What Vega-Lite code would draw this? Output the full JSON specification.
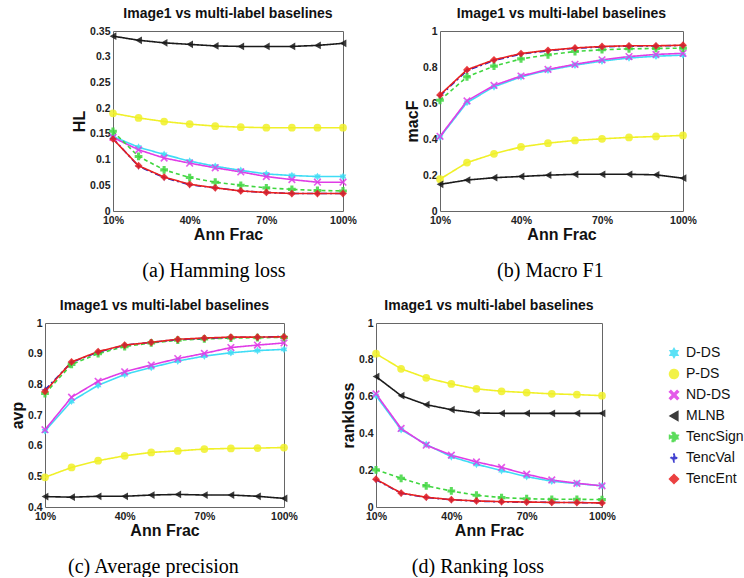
{
  "$schema": "https://vega.github.io/schema/vega-lite/v6.json",
  "background": "white",
  "padding": {"left": 8, "top": 6, "right": 0, "bottom": 0},
  "autosize": {"type": "pad"},
  "datasets": {
    "d": [
      {"metric":"HL","method":"D-DS","frac":10,"value":0.145},{"metric":"HL","method":"D-DS","frac":20,"value":0.124},{"metric":"HL","method":"D-DS","frac":30,"value":0.110},{"metric":"HL","method":"D-DS","frac":40,"value":0.097},{"metric":"HL","method":"D-DS","frac":50,"value":0.087},{"metric":"HL","method":"D-DS","frac":60,"value":0.079},{"metric":"HL","method":"D-DS","frac":70,"value":0.072},{"metric":"HL","method":"D-DS","frac":80,"value":0.069},{"metric":"HL","method":"D-DS","frac":90,"value":0.067},{"metric":"HL","method":"D-DS","frac":100,"value":0.067},
      {"metric":"HL","method":"P-DS","frac":10,"value":0.190},{"metric":"HL","method":"P-DS","frac":20,"value":0.181},{"metric":"HL","method":"P-DS","frac":30,"value":0.174},{"metric":"HL","method":"P-DS","frac":40,"value":0.169},{"metric":"HL","method":"P-DS","frac":50,"value":0.165},{"metric":"HL","method":"P-DS","frac":60,"value":0.163},{"metric":"HL","method":"P-DS","frac":70,"value":0.162},{"metric":"HL","method":"P-DS","frac":80,"value":0.162},{"metric":"HL","method":"P-DS","frac":90,"value":0.162},{"metric":"HL","method":"P-DS","frac":100,"value":0.162},
      {"metric":"HL","method":"ND-DS","frac":10,"value":0.143},{"metric":"HL","method":"ND-DS","frac":20,"value":0.119},{"metric":"HL","method":"ND-DS","frac":30,"value":0.103},{"metric":"HL","method":"ND-DS","frac":40,"value":0.093},{"metric":"HL","method":"ND-DS","frac":50,"value":0.084},{"metric":"HL","method":"ND-DS","frac":60,"value":0.076},{"metric":"HL","method":"ND-DS","frac":70,"value":0.067},{"metric":"HL","method":"ND-DS","frac":80,"value":0.061},{"metric":"HL","method":"ND-DS","frac":90,"value":0.056},{"metric":"HL","method":"ND-DS","frac":100,"value":0.056},
      {"metric":"HL","method":"MLNB","frac":10,"value":0.340},{"metric":"HL","method":"MLNB","frac":20,"value":0.332},{"metric":"HL","method":"MLNB","frac":30,"value":0.327},{"metric":"HL","method":"MLNB","frac":40,"value":0.324},{"metric":"HL","method":"MLNB","frac":50,"value":0.321},{"metric":"HL","method":"MLNB","frac":60,"value":0.320},{"metric":"HL","method":"MLNB","frac":70,"value":0.320},{"metric":"HL","method":"MLNB","frac":80,"value":0.320},{"metric":"HL","method":"MLNB","frac":90,"value":0.322},{"metric":"HL","method":"MLNB","frac":100,"value":0.326},
      {"metric":"HL","method":"TencSign","frac":10,"value":0.155},{"metric":"HL","method":"TencSign","frac":20,"value":0.106},{"metric":"HL","method":"TencSign","frac":30,"value":0.080},{"metric":"HL","method":"TencSign","frac":40,"value":0.065},{"metric":"HL","method":"TencSign","frac":50,"value":0.056},{"metric":"HL","method":"TencSign","frac":60,"value":0.050},{"metric":"HL","method":"TencSign","frac":70,"value":0.045},{"metric":"HL","method":"TencSign","frac":80,"value":0.042},{"metric":"HL","method":"TencSign","frac":90,"value":0.040},{"metric":"HL","method":"TencSign","frac":100,"value":0.039},
      {"metric":"HL","method":"TencVal","frac":10,"value":0.141},{"metric":"HL","method":"TencVal","frac":20,"value":0.087},{"metric":"HL","method":"TencVal","frac":30,"value":0.065},{"metric":"HL","method":"TencVal","frac":40,"value":0.051},{"metric":"HL","method":"TencVal","frac":50,"value":0.045},{"metric":"HL","method":"TencVal","frac":60,"value":0.039},{"metric":"HL","method":"TencVal","frac":70,"value":0.036},{"metric":"HL","method":"TencVal","frac":80,"value":0.034},{"metric":"HL","method":"TencVal","frac":90,"value":0.034},{"metric":"HL","method":"TencVal","frac":100,"value":0.034},
      {"metric":"HL","method":"TencEnt","frac":10,"value":0.140},{"metric":"HL","method":"TencEnt","frac":20,"value":0.088},{"metric":"HL","method":"TencEnt","frac":30,"value":0.066},{"metric":"HL","method":"TencEnt","frac":40,"value":0.052},{"metric":"HL","method":"TencEnt","frac":50,"value":0.045},{"metric":"HL","method":"TencEnt","frac":60,"value":0.039},{"metric":"HL","method":"TencEnt","frac":70,"value":0.036},{"metric":"HL","method":"TencEnt","frac":80,"value":0.034},{"metric":"HL","method":"TencEnt","frac":90,"value":0.034},{"metric":"HL","method":"TencEnt","frac":100,"value":0.034},

      {"metric":"macF","method":"D-DS","frac":10,"value":0.410},{"metric":"macF","method":"D-DS","frac":20,"value":0.603},{"metric":"macF","method":"D-DS","frac":30,"value":0.690},{"metric":"macF","method":"D-DS","frac":40,"value":0.745},{"metric":"macF","method":"D-DS","frac":50,"value":0.782},{"metric":"macF","method":"D-DS","frac":60,"value":0.810},{"metric":"macF","method":"D-DS","frac":70,"value":0.833},{"metric":"macF","method":"D-DS","frac":80,"value":0.850},{"metric":"macF","method":"D-DS","frac":90,"value":0.860},{"metric":"macF","method":"D-DS","frac":100,"value":0.866},
      {"metric":"macF","method":"P-DS","frac":10,"value":0.177},{"metric":"macF","method":"P-DS","frac":20,"value":0.269},{"metric":"macF","method":"P-DS","frac":30,"value":0.318},{"metric":"macF","method":"P-DS","frac":40,"value":0.356},{"metric":"macF","method":"P-DS","frac":50,"value":0.377},{"metric":"macF","method":"P-DS","frac":60,"value":0.392},{"metric":"macF","method":"P-DS","frac":70,"value":0.401},{"metric":"macF","method":"P-DS","frac":80,"value":0.409},{"metric":"macF","method":"P-DS","frac":90,"value":0.414},{"metric":"macF","method":"P-DS","frac":100,"value":0.420},
      {"metric":"macF","method":"ND-DS","frac":10,"value":0.415},{"metric":"macF","method":"ND-DS","frac":20,"value":0.612},{"metric":"macF","method":"ND-DS","frac":30,"value":0.698},{"metric":"macF","method":"ND-DS","frac":40,"value":0.750},{"metric":"macF","method":"ND-DS","frac":50,"value":0.787},{"metric":"macF","method":"ND-DS","frac":60,"value":0.815},{"metric":"macF","method":"ND-DS","frac":70,"value":0.840},{"metric":"macF","method":"ND-DS","frac":80,"value":0.858},{"metric":"macF","method":"ND-DS","frac":90,"value":0.870},{"metric":"macF","method":"ND-DS","frac":100,"value":0.876},
      {"metric":"macF","method":"MLNB","frac":10,"value":0.148},{"metric":"macF","method":"MLNB","frac":20,"value":0.172},{"metric":"macF","method":"MLNB","frac":30,"value":0.185},{"metric":"macF","method":"MLNB","frac":40,"value":0.192},{"metric":"macF","method":"MLNB","frac":50,"value":0.199},{"metric":"macF","method":"MLNB","frac":60,"value":0.204},{"metric":"macF","method":"MLNB","frac":70,"value":0.204},{"metric":"macF","method":"MLNB","frac":80,"value":0.204},{"metric":"macF","method":"MLNB","frac":90,"value":0.201},{"metric":"macF","method":"MLNB","frac":100,"value":0.182},
      {"metric":"macF","method":"TencSign","frac":10,"value":0.615},{"metric":"macF","method":"TencSign","frac":20,"value":0.745},{"metric":"macF","method":"TencSign","frac":30,"value":0.805},{"metric":"macF","method":"TencSign","frac":40,"value":0.845},{"metric":"macF","method":"TencSign","frac":50,"value":0.868},{"metric":"macF","method":"TencSign","frac":60,"value":0.886},{"metric":"macF","method":"TencSign","frac":70,"value":0.896},{"metric":"macF","method":"TencSign","frac":80,"value":0.901},{"metric":"macF","method":"TencSign","frac":90,"value":0.903},{"metric":"macF","method":"TencSign","frac":100,"value":0.905},
      {"metric":"macF","method":"TencVal","frac":10,"value":0.640},{"metric":"macF","method":"TencVal","frac":20,"value":0.780},{"metric":"macF","method":"TencVal","frac":30,"value":0.836},{"metric":"macF","method":"TencVal","frac":40,"value":0.872},{"metric":"macF","method":"TencVal","frac":50,"value":0.890},{"metric":"macF","method":"TencVal","frac":60,"value":0.904},{"metric":"macF","method":"TencVal","frac":70,"value":0.912},{"metric":"macF","method":"TencVal","frac":80,"value":0.916},{"metric":"macF","method":"TencVal","frac":90,"value":0.917},{"metric":"macF","method":"TencVal","frac":100,"value":0.920},
      {"metric":"macF","method":"TencEnt","frac":10,"value":0.645},{"metric":"macF","method":"TencEnt","frac":20,"value":0.785},{"metric":"macF","method":"TencEnt","frac":30,"value":0.840},{"metric":"macF","method":"TencEnt","frac":40,"value":0.875},{"metric":"macF","method":"TencEnt","frac":50,"value":0.893},{"metric":"macF","method":"TencEnt","frac":60,"value":0.906},{"metric":"macF","method":"TencEnt","frac":70,"value":0.914},{"metric":"macF","method":"TencEnt","frac":80,"value":0.918},{"metric":"macF","method":"TencEnt","frac":90,"value":0.918},{"metric":"macF","method":"TencEnt","frac":100,"value":0.921},

      {"metric":"avp","method":"D-DS","frac":10,"value":0.648},{"metric":"avp","method":"D-DS","frac":20,"value":0.745},{"metric":"avp","method":"D-DS","frac":30,"value":0.797},{"metric":"avp","method":"D-DS","frac":40,"value":0.832},{"metric":"avp","method":"D-DS","frac":50,"value":0.855},{"metric":"avp","method":"D-DS","frac":60,"value":0.876},{"metric":"avp","method":"D-DS","frac":70,"value":0.892},{"metric":"avp","method":"D-DS","frac":80,"value":0.903},{"metric":"avp","method":"D-DS","frac":90,"value":0.910},{"metric":"avp","method":"D-DS","frac":100,"value":0.914},
      {"metric":"avp","method":"P-DS","frac":10,"value":0.497},{"metric":"avp","method":"P-DS","frac":20,"value":0.529},{"metric":"avp","method":"P-DS","frac":30,"value":0.551},{"metric":"avp","method":"P-DS","frac":40,"value":0.567},{"metric":"avp","method":"P-DS","frac":50,"value":0.578},{"metric":"avp","method":"P-DS","frac":60,"value":0.583},{"metric":"avp","method":"P-DS","frac":70,"value":0.589},{"metric":"avp","method":"P-DS","frac":80,"value":0.591},{"metric":"avp","method":"P-DS","frac":90,"value":0.592},{"metric":"avp","method":"P-DS","frac":100,"value":0.594},
      {"metric":"avp","method":"ND-DS","frac":10,"value":0.652},{"metric":"avp","method":"ND-DS","frac":20,"value":0.758},{"metric":"avp","method":"ND-DS","frac":30,"value":0.810},{"metric":"avp","method":"ND-DS","frac":40,"value":0.841},{"metric":"avp","method":"ND-DS","frac":50,"value":0.863},{"metric":"avp","method":"ND-DS","frac":60,"value":0.884},{"metric":"avp","method":"ND-DS","frac":70,"value":0.901},{"metric":"avp","method":"ND-DS","frac":80,"value":0.920},{"metric":"avp","method":"ND-DS","frac":90,"value":0.928},{"metric":"avp","method":"ND-DS","frac":100,"value":0.935},
      {"metric":"avp","method":"MLNB","frac":10,"value":0.434},{"metric":"avp","method":"MLNB","frac":20,"value":0.432},{"metric":"avp","method":"MLNB","frac":30,"value":0.435},{"metric":"avp","method":"MLNB","frac":40,"value":0.435},{"metric":"avp","method":"MLNB","frac":50,"value":0.439},{"metric":"avp","method":"MLNB","frac":60,"value":0.441},{"metric":"avp","method":"MLNB","frac":70,"value":0.439},{"metric":"avp","method":"MLNB","frac":80,"value":0.439},{"metric":"avp","method":"MLNB","frac":90,"value":0.435},{"metric":"avp","method":"MLNB","frac":100,"value":0.428},
      {"metric":"avp","method":"TencSign","frac":10,"value":0.770},{"metric":"avp","method":"TencSign","frac":20,"value":0.865},{"metric":"avp","method":"TencSign","frac":30,"value":0.900},{"metric":"avp","method":"TencSign","frac":40,"value":0.923},{"metric":"avp","method":"TencSign","frac":50,"value":0.935},{"metric":"avp","method":"TencSign","frac":60,"value":0.944},{"metric":"avp","method":"TencSign","frac":70,"value":0.948},{"metric":"avp","method":"TencSign","frac":80,"value":0.951},{"metric":"avp","method":"TencSign","frac":90,"value":0.952},{"metric":"avp","method":"TencSign","frac":100,"value":0.953},
      {"metric":"avp","method":"TencVal","frac":10,"value":0.782},{"metric":"avp","method":"TencVal","frac":20,"value":0.872},{"metric":"avp","method":"TencVal","frac":30,"value":0.905},{"metric":"avp","method":"TencVal","frac":40,"value":0.928},{"metric":"avp","method":"TencVal","frac":50,"value":0.937},{"metric":"avp","method":"TencVal","frac":60,"value":0.946},{"metric":"avp","method":"TencVal","frac":70,"value":0.950},{"metric":"avp","method":"TencVal","frac":80,"value":0.953},{"metric":"avp","method":"TencVal","frac":90,"value":0.954},{"metric":"avp","method":"TencVal","frac":100,"value":0.956},
      {"metric":"avp","method":"TencEnt","frac":10,"value":0.777},{"metric":"avp","method":"TencEnt","frac":20,"value":0.873},{"metric":"avp","method":"TencEnt","frac":30,"value":0.907},{"metric":"avp","method":"TencEnt","frac":40,"value":0.928},{"metric":"avp","method":"TencEnt","frac":50,"value":0.937},{"metric":"avp","method":"TencEnt","frac":60,"value":0.947},{"metric":"avp","method":"TencEnt","frac":70,"value":0.951},{"metric":"avp","method":"TencEnt","frac":80,"value":0.954},{"metric":"avp","method":"TencEnt","frac":90,"value":0.954},{"metric":"avp","method":"TencEnt","frac":100,"value":0.955},

      {"metric":"rankloss","method":"D-DS","frac":10,"value":0.605},{"metric":"rankloss","method":"D-DS","frac":20,"value":0.420},{"metric":"rankloss","method":"D-DS","frac":30,"value":0.340},{"metric":"rankloss","method":"D-DS","frac":40,"value":0.273},{"metric":"rankloss","method":"D-DS","frac":50,"value":0.232},{"metric":"rankloss","method":"D-DS","frac":60,"value":0.198},{"metric":"rankloss","method":"D-DS","frac":70,"value":0.165},{"metric":"rankloss","method":"D-DS","frac":80,"value":0.140},{"metric":"rankloss","method":"D-DS","frac":90,"value":0.127},{"metric":"rankloss","method":"D-DS","frac":100,"value":0.115},
      {"metric":"rankloss","method":"P-DS","frac":10,"value":0.833},{"metric":"rankloss","method":"P-DS","frac":20,"value":0.751},{"metric":"rankloss","method":"P-DS","frac":30,"value":0.702},{"metric":"rankloss","method":"P-DS","frac":40,"value":0.669},{"metric":"rankloss","method":"P-DS","frac":50,"value":0.642},{"metric":"rankloss","method":"P-DS","frac":60,"value":0.629},{"metric":"rankloss","method":"P-DS","frac":70,"value":0.622},{"metric":"rankloss","method":"P-DS","frac":80,"value":0.615},{"metric":"rankloss","method":"P-DS","frac":90,"value":0.611},{"metric":"rankloss","method":"P-DS","frac":100,"value":0.605},
      {"metric":"rankloss","method":"ND-DS","frac":10,"value":0.615},{"metric":"rankloss","method":"ND-DS","frac":20,"value":0.427},{"metric":"rankloss","method":"ND-DS","frac":30,"value":0.336},{"metric":"rankloss","method":"ND-DS","frac":40,"value":0.282},{"metric":"rankloss","method":"ND-DS","frac":50,"value":0.245},{"metric":"rankloss","method":"ND-DS","frac":60,"value":0.215},{"metric":"rankloss","method":"ND-DS","frac":70,"value":0.178},{"metric":"rankloss","method":"ND-DS","frac":80,"value":0.147},{"metric":"rankloss","method":"ND-DS","frac":90,"value":0.129},{"metric":"rankloss","method":"ND-DS","frac":100,"value":0.115},
      {"metric":"rankloss","method":"MLNB","frac":10,"value":0.709},{"metric":"rankloss","method":"MLNB","frac":20,"value":0.605},{"metric":"rankloss","method":"MLNB","frac":30,"value":0.556},{"metric":"rankloss","method":"MLNB","frac":40,"value":0.529},{"metric":"rankloss","method":"MLNB","frac":50,"value":0.511},{"metric":"rankloss","method":"MLNB","frac":60,"value":0.509},{"metric":"rankloss","method":"MLNB","frac":70,"value":0.509},{"metric":"rankloss","method":"MLNB","frac":80,"value":0.509},{"metric":"rankloss","method":"MLNB","frac":90,"value":0.509},{"metric":"rankloss","method":"MLNB","frac":100,"value":0.509},
      {"metric":"rankloss","method":"TencSign","frac":10,"value":0.202},{"metric":"rankloss","method":"TencSign","frac":20,"value":0.156},{"metric":"rankloss","method":"TencSign","frac":30,"value":0.115},{"metric":"rankloss","method":"TencSign","frac":40,"value":0.087},{"metric":"rankloss","method":"TencSign","frac":50,"value":0.064},{"metric":"rankloss","method":"TencSign","frac":60,"value":0.051},{"metric":"rankloss","method":"TencSign","frac":70,"value":0.045},{"metric":"rankloss","method":"TencSign","frac":80,"value":0.042},{"metric":"rankloss","method":"TencSign","frac":90,"value":0.042},{"metric":"rankloss","method":"TencSign","frac":100,"value":0.040},
      {"metric":"rankloss","method":"TencVal","frac":10,"value":0.148},{"metric":"rankloss","method":"TencVal","frac":20,"value":0.075},{"metric":"rankloss","method":"TencVal","frac":30,"value":0.052},{"metric":"rankloss","method":"TencVal","frac":40,"value":0.039},{"metric":"rankloss","method":"TencVal","frac":50,"value":0.032},{"metric":"rankloss","method":"TencVal","frac":60,"value":0.028},{"metric":"rankloss","method":"TencVal","frac":70,"value":0.026},{"metric":"rankloss","method":"TencVal","frac":80,"value":0.025},{"metric":"rankloss","method":"TencVal","frac":90,"value":0.024},{"metric":"rankloss","method":"TencVal","frac":100,"value":0.022},
      {"metric":"rankloss","method":"TencEnt","frac":10,"value":0.151},{"metric":"rankloss","method":"TencEnt","frac":20,"value":0.076},{"metric":"rankloss","method":"TencEnt","frac":30,"value":0.053},{"metric":"rankloss","method":"TencEnt","frac":40,"value":0.040},{"metric":"rankloss","method":"TencEnt","frac":50,"value":0.033},{"metric":"rankloss","method":"TencEnt","frac":60,"value":0.029},{"metric":"rankloss","method":"TencEnt","frac":70,"value":0.027},{"metric":"rankloss","method":"TencEnt","frac":80,"value":0.025},{"metric":"rankloss","method":"TencEnt","frac":90,"value":0.024},{"metric":"rankloss","method":"TencEnt","frac":100,"value":0.022}
    ]
  },
  "config": {
    "font": "Liberation Sans",
    "view": {"stroke": "#666666", "strokeWidth": 1},
    "axis": {
      "labelFont": "Liberation Sans", "labelFontWeight": "bold", "labelFontSize": 10.5, "labelColor": "#222222",
      "titleFont": "Liberation Sans", "titleFontWeight": "bold", "titleFontSize": 16, "titleColor": "#111111",
      "domain": false, "ticks": false, "grid": false, "labelPadding": 3, "titlePadding": 2
    },
    "axisX": {"labelFlush": false, "labelPadding": 4, "titlePadding": 1},
    "legend": {
      "orient": "none", "legendX": 622, "legendY": 315,
      "labelFont": "Liberation Sans", "labelFontSize": 14, "labelColor": "#111111",
      "symbolSize": 80, "rowPadding": 5, "symbolStrokeWidth": 1.5, "labelOffset": 5
    }
  },
  "spacing": 17,
  "vconcat": [
    {
      "spacing": 46,
      "hconcat": [
        {
          "spacing": 19,
          "hconcat": [
            {"data": {"values": []}, "mark": {"type": "point", "opacity": 0}, "encoding": {}, "width": 7, "height": 10, "view": {"stroke": null}},
            {
              "title": {"text": "(a) Hamming loss", "orient": "bottom", "anchor": "middle", "frame": "bounds", "font": "Liberation Serif", "fontSize": 20, "fontWeight": "normal", "color": "#000000", "offset": 18},
              "vconcat": [{
                "data": {"name": "d"},
                "width": 230, "height": 180,
                "title": {"text": "Image1 vs multi-label baselines", "anchor": "middle", "frame": "group", "font": "Liberation Sans", "fontSize": 14, "fontWeight": "bold", "color": "#111111", "baseline": "alphabetic", "offset": -6},
                "transform": [{"filter": "datum.metric === 'HL'"}],
                "encoding": {
                  "x": {"field": "frac", "type": "quantitative", "scale": {"domain": [10, 100], "nice": false, "zero": false}, "axis": {"title": "Ann Frac", "values": [10, 40, 70, 100], "labelExpr": "datum.value + '%'"}},
                  "y": {"field": "value", "type": "quantitative", "scale": {"domain": [0, 0.35], "nice": false}, "axis": {"title": "HL", "values": [0, 0.05, 0.1, 0.15, 0.2, 0.25, 0.3, 0.35], "format": "~g"}},
                  "color": {"field": "method", "type": "nominal", "title": null, "scale": {"domain": ["D-DS", "P-DS", "ND-DS", "MLNB", "TencSign", "TencVal", "TencEnt"], "range": ["#3fdcf5", "#f0f028", "#e03ce6", "#1a1a1a", "#3fd63f", "#2020c8", "#e82020"]}}
                },
                "layer": [
                  {"mark": {"type": "line", "strokeWidth": 1.6}, "encoding": {"strokeDash": {"field": "method", "type": "nominal", "title": null, "scale": {"domain": ["D-DS", "P-DS", "ND-DS", "MLNB", "TencSign", "TencVal", "TencEnt"], "range": [[1, 0], [1, 0], [1, 0], [1, 0], [4, 3], [6, 3, 2, 3], [1, 0]]}}}},
                  {"mark": {"type": "point", "filled": true, "size": 60, "opacity": 0.85}, "encoding": {"shape": {"field": "method", "type": "nominal", "title": null, "scale": {"domain": ["D-DS", "P-DS", "ND-DS", "MLNB", "TencSign", "TencVal", "TencEnt"], "range": ["M0,-1L0.289,-0.5L0.866,-0.5L0.577,0L0.866,0.5L0.289,0.5L0,1L-0.289,0.5L-0.866,0.5L-0.577,0L-0.866,-0.5L-0.289,-0.5Z", "circle", "M-1,-0.7L-0.7,-1L0,-0.3L0.7,-1L1,-0.7L0.3,0L1,0.7L0.7,1L0,0.3L-0.7,1L-1,0.7L-0.3,0Z", "triangle-left", "cross", "M0,-1L0.2,-0.2L1,0L0.2,0.2L0,1L-0.2,0.2L-1,0L-0.2,-0.2Z", "diamond"]}}}}
                ]
              }]
            }
          ]
        },
        {
          "title": {"text": "(b) Macro F1", "orient": "bottom", "anchor": "middle", "frame": "bounds", "font": "Liberation Serif", "fontSize": 20, "fontWeight": "normal", "color": "#000000", "offset": 18},
          "vconcat": [{
            "data": {"name": "d"},
            "width": 243, "height": 180,
            "title": {"text": "Image1 vs multi-label baselines", "anchor": "middle", "frame": "group", "font": "Liberation Sans", "fontSize": 14, "fontWeight": "bold", "color": "#111111", "baseline": "alphabetic", "offset": -6},
            "transform": [{"filter": "datum.metric === 'macF'"}],
            "encoding": {
              "x": {"field": "frac", "type": "quantitative", "scale": {"domain": [10, 100], "nice": false, "zero": false}, "axis": {"title": "Ann Frac", "values": [10, 40, 70, 100], "labelExpr": "datum.value + '%'"}},
              "y": {"field": "value", "type": "quantitative", "scale": {"domain": [0, 1], "nice": false}, "axis": {"title": "macF", "values": [0, 0.2, 0.4, 0.6, 0.8, 1], "format": "~g"}},
              "color": {"field": "method", "type": "nominal", "title": null, "scale": {"domain": ["D-DS", "P-DS", "ND-DS", "MLNB", "TencSign", "TencVal", "TencEnt"], "range": ["#3fdcf5", "#f0f028", "#e03ce6", "#1a1a1a", "#3fd63f", "#2020c8", "#e82020"]}}
            },
            "layer": [
              {"mark": {"type": "line", "strokeWidth": 1.6}, "encoding": {"strokeDash": {"field": "method", "type": "nominal", "title": null, "scale": {"domain": ["D-DS", "P-DS", "ND-DS", "MLNB", "TencSign", "TencVal", "TencEnt"], "range": [[1, 0], [1, 0], [1, 0], [1, 0], [4, 3], [6, 3, 2, 3], [1, 0]]}}}},
              {"mark": {"type": "point", "filled": true, "size": 60, "opacity": 0.85}, "encoding": {"shape": {"field": "method", "type": "nominal", "title": null, "scale": {"domain": ["D-DS", "P-DS", "ND-DS", "MLNB", "TencSign", "TencVal", "TencEnt"], "range": ["M0,-1L0.289,-0.5L0.866,-0.5L0.577,0L0.866,0.5L0.289,0.5L0,1L-0.289,0.5L-0.866,0.5L-0.577,0L-0.866,-0.5L-0.289,-0.5Z", "circle", "M-1,-0.7L-0.7,-1L0,-0.3L0.7,-1L1,-0.7L0.3,0L1,0.7L0.7,1L0,0.3L-0.7,1L-1,0.7L-0.3,0Z", "triangle-left", "cross", "M0,-1L0.2,-0.2L1,0L0.2,0.2L0,1L-0.2,0.2L-1,0L-0.2,-0.2Z", "diamond"]}}}}
            ]
          }]
        }
      ]
    },
    {
      "spacing": 41,
      "hconcat": [
        {
          "title": {"text": "(c) Average precision", "orient": "bottom", "anchor": "middle", "frame": "bounds", "font": "Liberation Serif", "fontSize": 20, "fontWeight": "normal", "color": "#000000", "offset": 18},
          "vconcat": [{
            "data": {"name": "d"},
            "width": 239, "height": 184,
            "title": {"text": "Image1 vs multi-label baselines", "anchor": "middle", "frame": "group", "font": "Liberation Sans", "fontSize": 14, "fontWeight": "bold", "color": "#111111", "baseline": "alphabetic", "offset": -6},
            "transform": [{"filter": "datum.metric === 'avp'"}],
            "encoding": {
              "x": {"field": "frac", "type": "quantitative", "scale": {"domain": [10, 100], "nice": false, "zero": false}, "axis": {"title": "Ann Frac", "values": [10, 40, 70, 100], "labelExpr": "datum.value + '%'"}},
              "y": {"field": "value", "type": "quantitative", "scale": {"domain": [0.4, 1], "nice": false, "zero": false}, "axis": {"title": "avp", "values": [0.4, 0.5, 0.6, 0.7, 0.8, 0.9, 1], "format": "~g"}},
              "color": {"field": "method", "type": "nominal", "title": null, "scale": {"domain": ["D-DS", "P-DS", "ND-DS", "MLNB", "TencSign", "TencVal", "TencEnt"], "range": ["#3fdcf5", "#f0f028", "#e03ce6", "#1a1a1a", "#3fd63f", "#2020c8", "#e82020"]}}
            },
            "layer": [
              {"mark": {"type": "line", "strokeWidth": 1.6}, "encoding": {"strokeDash": {"field": "method", "type": "nominal", "title": null, "scale": {"domain": ["D-DS", "P-DS", "ND-DS", "MLNB", "TencSign", "TencVal", "TencEnt"], "range": [[1, 0], [1, 0], [1, 0], [1, 0], [4, 3], [6, 3, 2, 3], [1, 0]]}}}},
              {"mark": {"type": "point", "filled": true, "size": 60, "opacity": 0.85}, "encoding": {"shape": {"field": "method", "type": "nominal", "title": null, "scale": {"domain": ["D-DS", "P-DS", "ND-DS", "MLNB", "TencSign", "TencVal", "TencEnt"], "range": ["M0,-1L0.289,-0.5L0.866,-0.5L0.577,0L0.866,0.5L0.289,0.5L0,1L-0.289,0.5L-0.866,0.5L-0.577,0L-0.866,-0.5L-0.289,-0.5Z", "circle", "M-1,-0.7L-0.7,-1L0,-0.3L0.7,-1L1,-0.7L0.3,0L1,0.7L0.7,1L0,0.3L-0.7,1L-1,0.7L-0.3,0Z", "triangle-left", "cross", "M0,-1L0.2,-0.2L1,0L0.2,0.2L0,1L-0.2,0.2L-1,0L-0.2,-0.2Z", "diamond"]}}}}
            ]
          }]
        },
        {
          "title": {"text": "(d) Ranking loss", "orient": "bottom", "anchor": "middle", "frame": "bounds", "font": "Liberation Serif", "fontSize": 20, "fontWeight": "normal", "color": "#000000", "offset": 18},
          "vconcat": [{
            "data": {"name": "d"},
            "width": 226, "height": 184,
            "title": {"text": "Image1 vs multi-label baselines", "anchor": "middle", "frame": "group", "font": "Liberation Sans", "fontSize": 14, "fontWeight": "bold", "color": "#111111", "baseline": "alphabetic", "offset": -6},
            "transform": [{"filter": "datum.metric === 'rankloss'"}],
            "encoding": {
              "x": {"field": "frac", "type": "quantitative", "scale": {"domain": [10, 100], "nice": false, "zero": false}, "axis": {"title": "Ann Frac", "values": [10, 40, 70, 100], "labelExpr": "datum.value + '%'"}},
              "y": {"field": "value", "type": "quantitative", "scale": {"domain": [0, 1], "nice": false}, "axis": {"title": "rankloss", "values": [0, 0.2, 0.4, 0.6, 0.8, 1], "format": "~g"}},
              "color": {"field": "method", "type": "nominal", "title": null, "scale": {"domain": ["D-DS", "P-DS", "ND-DS", "MLNB", "TencSign", "TencVal", "TencEnt"], "range": ["#3fdcf5", "#f0f028", "#e03ce6", "#1a1a1a", "#3fd63f", "#2020c8", "#e82020"]}}
            },
            "layer": [
              {"mark": {"type": "line", "strokeWidth": 1.6}, "encoding": {"strokeDash": {"field": "method", "type": "nominal", "title": null, "scale": {"domain": ["D-DS", "P-DS", "ND-DS", "MLNB", "TencSign", "TencVal", "TencEnt"], "range": [[1, 0], [1, 0], [1, 0], [1, 0], [4, 3], [6, 3, 2, 3], [1, 0]]}}}},
              {"mark": {"type": "point", "filled": true, "size": 60, "opacity": 0.85}, "encoding": {"shape": {"field": "method", "type": "nominal", "title": null, "scale": {"domain": ["D-DS", "P-DS", "ND-DS", "MLNB", "TencSign", "TencVal", "TencEnt"], "range": ["M0,-1L0.289,-0.5L0.866,-0.5L0.577,0L0.866,0.5L0.289,0.5L0,1L-0.289,0.5L-0.866,0.5L-0.577,0L-0.866,-0.5L-0.289,-0.5Z", "circle", "M-1,-0.7L-0.7,-1L0,-0.3L0.7,-1L1,-0.7L0.3,0L1,0.7L0.7,1L0,0.3L-0.7,1L-1,0.7L-0.3,0Z", "triangle-left", "cross", "M0,-1L0.2,-0.2L1,0L0.2,0.2L0,1L-0.2,0.2L-1,0L-0.2,-0.2Z", "diamond"]}}}}
            ]
          }]
        }
      ]
    }
  ]
}
